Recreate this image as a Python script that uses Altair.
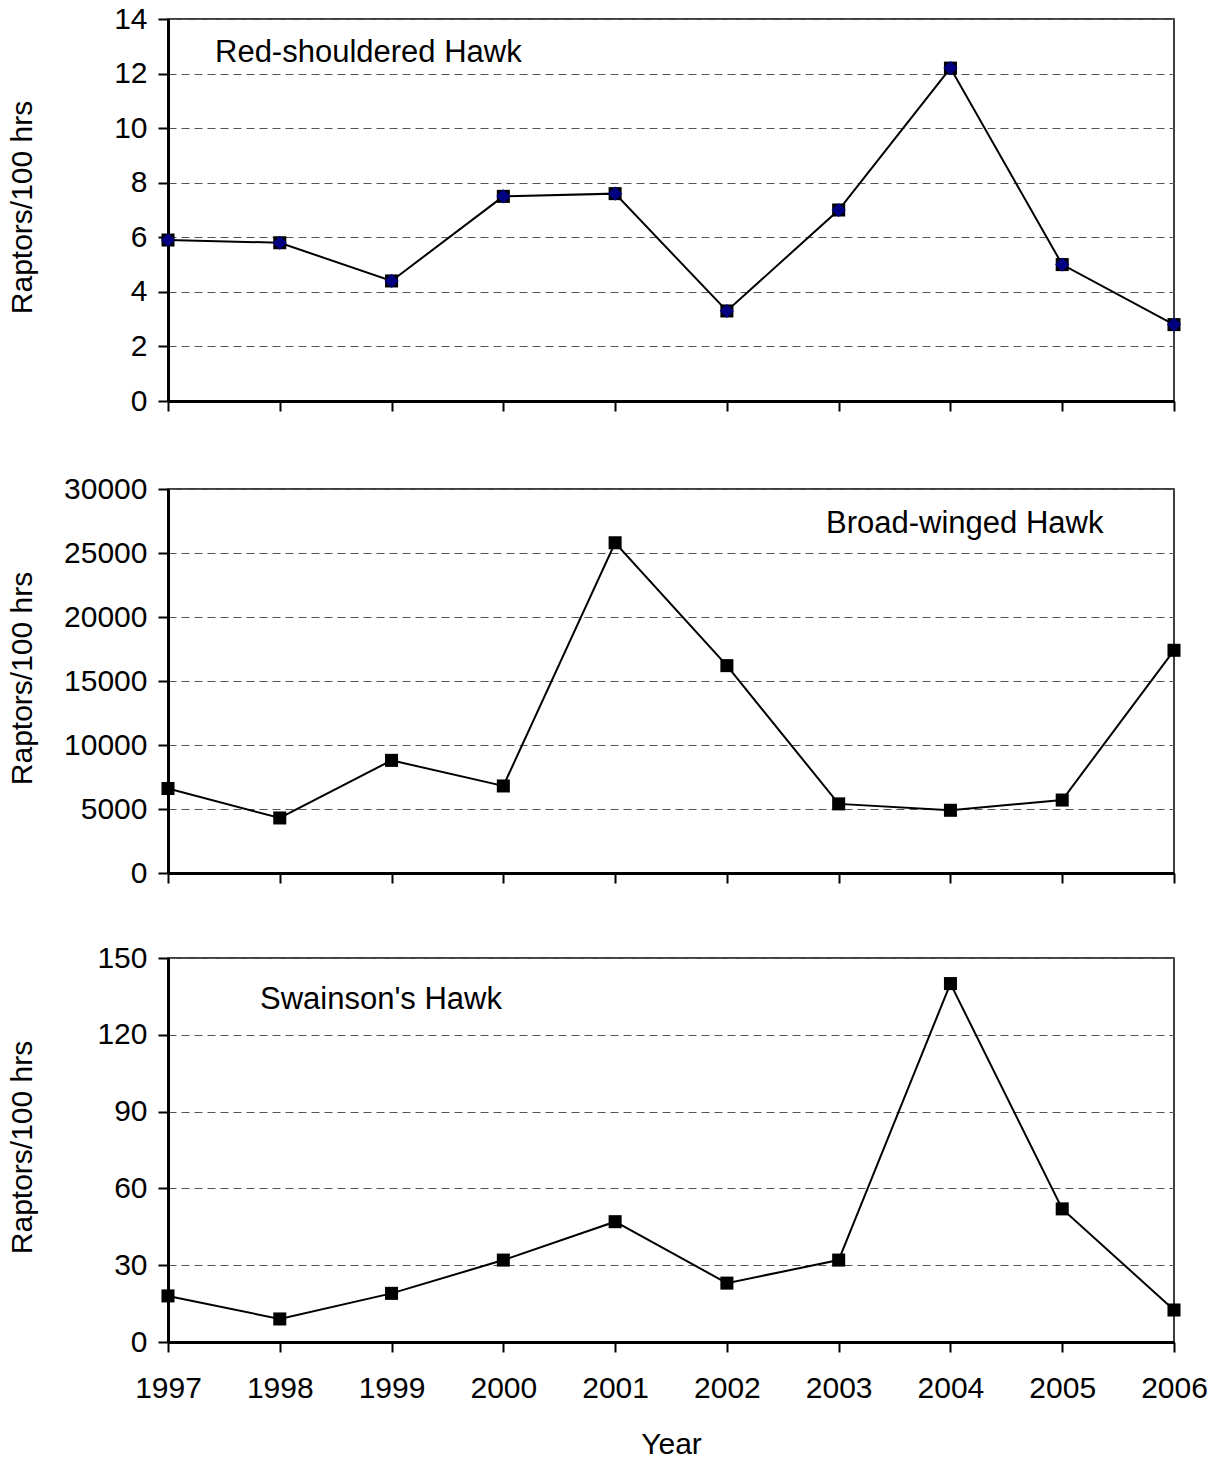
import altair as alt
import pandas as pd

years = [1997, 1998, 1999, 2000, 2001, 2002, 2003, 2004, 2005, 2006]
red_shouldered = [5.9, 5.8, 4.4, 7.5, 7.6, 3.3, 7.0, 12.2, 5.0, 2.8]
broad_winged = [6600, 4300, 8800, 6800, 25800, 16200, 5400, 4900, 5700, 17400]
swainsons = [18, 9, 19, 32, 47, 23, 32, 140, 52, 12.5]

red_ticks = [0, 2, 4, 6, 8, 10, 12, 14]
broad_ticks = [0, 5000, 10000, 15000, 20000, 25000, 30000]
swain_ticks = [0, 30, 60, 90, 120, 150]

FONT = "Liberation Sans"
FS = 30
W = 1006


def panel(values, yticks, label, lx, ly, show_x, H, diamond=False):
    df = pd.DataFrame({"Year": years, "Rate": values})
    xaxis = alt.Axis(
        values=years, format="d", labels=show_x, title="Year" if show_x else None,
        grid=False, tickSize=10, labelPadding=21, titlePadding=26, labelFlush=False,
        labelOverlap=False,
    )
    yaxis = alt.Axis(
        values=yticks, format="d", title="Raptors/100 hrs", grid=True,
        gridDash=[8, 5], gridColor="#555555", gridWidth=1.2,
        tickSize=10, labelPadding=11, labelOverlap=False,
        titleX=-146, titleY=H / 2 - 3, titleAngle=-90, titleAlign="center",
        titleBaseline="middle",
    )
    x = alt.X("Year:Q", scale=alt.Scale(domain=[1997, 2006], nice=False, zero=False), axis=xaxis)
    y = alt.Y("Rate:Q", scale=alt.Scale(domain=[0, yticks[-1]], nice=False), axis=yaxis)
    base = alt.Chart(df)
    line = base.mark_line(color="black", strokeWidth=2).encode(x=x, y=y)
    sq = base.mark_point(shape="square", filled=True, color="black", size=170, opacity=1).encode(x=x, y=y)
    layers = [line, sq]
    if diamond:
        dm = base.mark_point(shape="diamond", filled=True, color="#000080", size=200, opacity=1).encode(x=x, y=y)
        layers.append(dm)
    txt = alt.Chart(pd.DataFrame({"label": [label]})).mark_text(
        align="left", baseline="middle", fontSize=31, font=FONT, color="black"
    ).encode(x=alt.value(lx), y=alt.value(ly), text="label:N")
    layers.append(txt)
    return alt.layer(*layers).properties(width=W, height=H)


p1 = panel(red_shouldered, red_ticks, "Red-shouldered Hawk", 47, 34, False, 382, diamond=True)
p2 = panel(broad_winged, broad_ticks, "Broad-winged Hawk", 658, 35, False, 384)
p3 = panel(swainsons, swain_ticks, "Swainson's Hawk", 92, 42, True, 384)

chart = alt.vconcat(p1, alt.vconcat(p2, p3, spacing=53), spacing=56).properties(
    padding={"left": 6, "top": 3, "right": 5, "bottom": 0},
    background="white",
).configure_view(
    stroke="black", strokeWidth=1.5
).configure_axis(
    domainColor="black", domainWidth=3, tickColor="black", tickWidth=2,
    labelFont=FONT, labelFontSize=FS, labelColor="black",
    titleFont=FONT, titleFontSize=FS, titleColor="black", titleFontWeight="normal",
)

chart.save("out.html", embed_options={"renderer": "svg", "actions": False})
